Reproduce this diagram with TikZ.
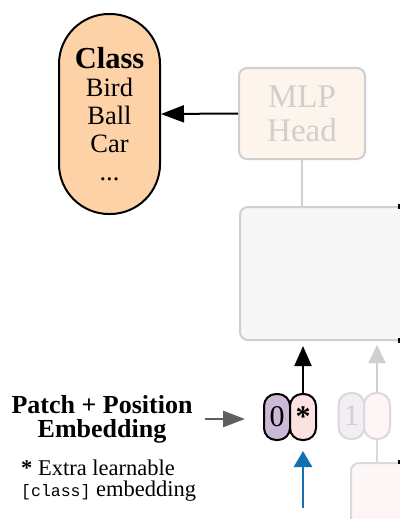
\documentclass[tikz,border=0pt]{standalone}
\usepackage{fontspec}
\setmainfont{Liberation Serif}
\setmonofont{Liberation Mono}
\usetikzlibrary{arrows.meta}
\definecolor{classfill}{HTML}{FDD2A7}
\definecolor{mlpfill}{HTML}{FDF4EC}
\definecolor{palegray}{HTML}{CFCFCF}
\definecolor{encfill}{HTML}{F7F7F7}
\definecolor{zerofill}{HTML}{CDB8D5}
\definecolor{starfill}{HTML}{FCE1E1}
\definecolor{onefill}{HTML}{F2EEF4}
\definecolor{twofill}{HTML}{FEF6F6}
\definecolor{embfill}{HTML}{FDF6F6}
\definecolor{faintgray}{HTML}{DADADA}
\definecolor{bluearrow}{HTML}{1270B5}
\definecolor{darkarrow}{HTML}{5F5F5F}
\begin{document}
\begin{tikzpicture}[x=1pt,y=-1pt,
  capsule/.style={draw=black, line width=2pt, rounded corners=12pt, minimum width=26pt, minimum height=46pt, inner sep=0pt},
  fadedcapsule/.style={capsule, draw=faintgray},
  fadedbox/.style={draw=palegray, line width=2pt, rounded corners=8pt, inner sep=0pt},
  conn/.style={line width=2pt},
]
\clip (0,0) rectangle (400,519);
\fill[white] (0,0) rectangle (400,519);

% class output capsule
\node[draw=black, fill=classfill, line width=2pt, rounded corners=50pt, minimum width=101pt, minimum height=200pt, align=center, inner sep=0pt,
  font=\fontsize{26.5}{28}\selectfont] (class) at (109.5,114)
  {{\fontsize{30.5}{28}\selectfont\bfseries Class}\\Bird\\Ball\\Car\\...};

% MLP head
\node[fadedbox, fill=mlpfill, minimum width=126pt, minimum height=91pt, align=center, text=palegray,
  font=\fontsize{33}{34}\selectfont] (mlp) at (302,113.5) {MLP\\Head};

% transformer encoder (cut off)
\node[fadedbox, draw=palegray, fill=encfill, anchor=north west, minimum width=200pt, minimum height=133pt] (enc) at (239,206) {};

% lower embedding box (cut off)
\node[fadedbox, draw=faintgray, fill=embfill, anchor=north west, minimum width=100pt, minimum height=100pt] (emb) at (350,462) {};

% tokens
\node[capsule, fill=zerofill, font=\fontsize{30}{30}\selectfont] (zero) at (277,417) {\raisebox{-2pt}{0}};
\node[capsule, fill=starfill, font=\fontsize{30}{30}\selectfont\bfseries] (star) at (303,417) {\raisebox{-6pt}{*}};
\node[fadedcapsule, fill=onefill, text=palegray, font=\fontsize{30}{30}\selectfont] (one) at (351.5,416) {\raisebox{-2pt}{1}};
\node[fadedcapsule, fill=twofill] (two) at (377,416) {};

% labels
\node[align=center, font=\fontsize{26}{24}\selectfont\bfseries, inner sep=0pt] (patch) at (102,419) {Patch + Position\\Embedding};
\node[align=left, anchor=north west, font=\fontsize{22.5}{20.5}\selectfont, inner sep=0pt] (note) at (21,460)
  {\textbf{*} Extra learnable\\{\fontsize{16.5}{20.5}\selectfont\ttfamily [class]} embedding};

% connectors
\draw[conn, -{Triangle[length=23pt,width=17pt]}] (mlp.west) -- (class.east);
\draw[conn, palegray] (mlp.south) -- (mlp.south |- enc.north);
\draw[conn, -{Triangle[length=20pt,width=17pt]}, shorten >=5pt] (star.north) -- (star.north |- enc.south);
\draw[conn, palegray, -{Triangle[length=18pt,width=17pt]}, shorten >=4pt] (two.north) -- (two.north |- enc.south);
\draw[conn, faintgray] (two.south) -- (two.south |- emb.north);
\coordinate (bluestart) at (303,508);
\draw[line width=2.8pt, bluearrow, -{Triangle[length=16pt,width=18pt]}, shorten >=10pt] (bluestart) -- (star.south);
\draw[line width=2.8pt, darkarrow, -{Triangle[length=22pt,width=16pt]}, shorten <=12pt, shorten >=18pt] (patch.east) -- (patch.east -| zero.west);

% cut-off black marks at the right edge
\fill[black] (397.8,204) rectangle (400,209);
\fill[black] (397.8,338) rectangle (400,343);
\fill[black] (397.8,460) rectangle (400,464);
\end{tikzpicture}
\end{document}
